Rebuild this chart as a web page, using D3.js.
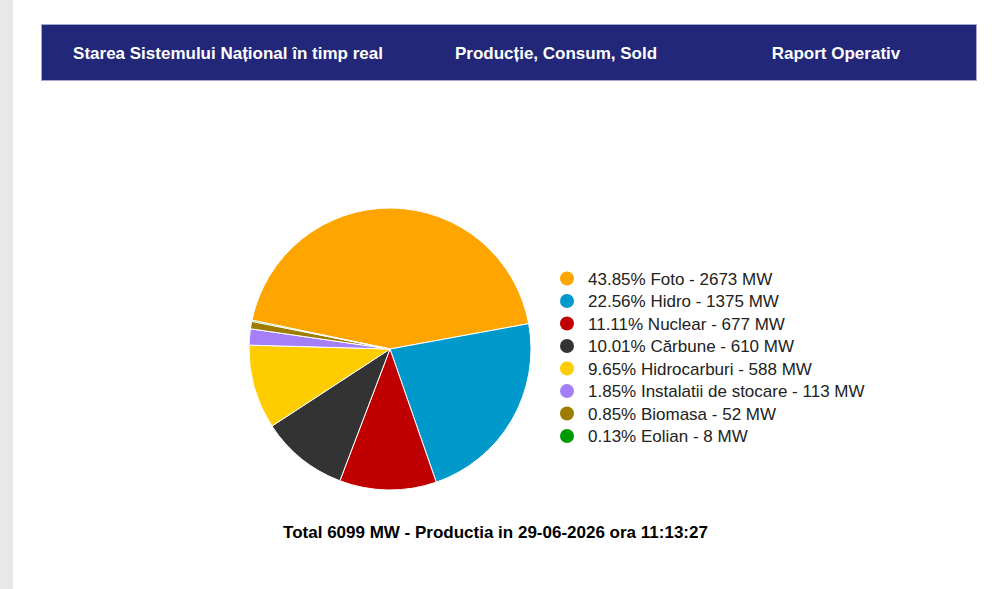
<!DOCTYPE html>
<html>
<head>
<meta charset="utf-8">
<script src="https://cdn.jsdelivr.net/npm/d3@7"></script>
<style>
  body { margin: 0; background: #fff; font-family: "Liberation Sans", Arial, sans-serif; }
</style>
</head>
<body>
<div id="chart"></div>
<script>
// Data
const sources = ["Foto", "Hidro", "Nuclear", "Cărbune", "Hidrocarburi", "Instalatii de stocare", "Biomasa", "Eolian"];
const megawatts = [2673, 1375, 677, 610, 588, 113, 52, 8];
const percents = ["43.85", "22.56", "11.11", "10.01", "9.65", "1.85", "0.85", "0.13"];
const sliceColors = ["#ffa500", "#0099cc", "#c00000", "#333333", "#ffcc00", "#a47ff8", "#9e7c00", "#009900"];
const menuItems = ["Starea Sistemului Național în timp real", "Producție, Consum, Sold", "Raport Operativ"];
const totalMW = 6099;
const timestamp = "29-06-2026 ora 11:13:27";

const data = sources.map((s, i) => ({ name: s, mw: megawatts[i], pct: percents[i], color: sliceColors[i] }));

const W = 1000, H = 589;
const svg = d3.select("#chart")
  .append("svg")
  .attr("width", W)
  .attr("height", H);

// grey strip on the left edge
svg.append("rect")
  .attr("x", 0).attr("y", 0)
  .attr("width", 13).attr("height", H)
  .attr("fill", "#e8e8e8");

// Header bar
svg.append("rect")
  .attr("x", 41.5).attr("y", 24.5)
  .attr("width", 935).attr("height", 56)
  .attr("fill", "#23277a")
  .attr("stroke", "#a3a6cf")
  .attr("stroke-width", 1);

const menuX = d3.scalePoint()
  .domain(menuItems)
  .range([228, 836]);
// middle item sits a bit left of the exact midpoint
const menuPos = { "Producție, Consum, Sold": 556 };

svg.selectAll(".menu")
  .data(menuItems)
  .enter()
  .append("text")
  .attr("class", "menu")
  .attr("x", d => menuPos[d] || menuX(d))
  .attr("y", 59)
  .attr("text-anchor", "middle")
  .attr("fill", "#fff")
  .attr("font-weight", "bold")
  .attr("font-size", "17px")
  .text(d => d);

// Pie
const cx = 390, cy = 349, radius = 141;
const pie = d3.pie()
  .sort(null)
  .value(d => d.mw)
  .startAngle(-1.365)
  .endAngle(-1.365 + 2 * Math.PI);

const arc = d3.arc()
  .innerRadius(0)
  .outerRadius(radius);

const pieG = svg.append("g")
  .attr("transform", `translate(${cx},${cy})`);

pieG.selectAll("path")
  .data(pie(data))
  .enter()
  .append("path")
  .attr("d", arc)
  .attr("fill", d => d.data.color)
  .attr("stroke", "#fff")
  .attr("stroke-width", 1);

// Legend
const legendY = d3.scaleLinear()
  .domain([0, data.length - 1])
  .range([278.5, 436]);

const legend = svg.append("g");
const items = legend.selectAll(".item")
  .data(data)
  .enter()
  .append("g")
  .attr("class", "item")
  .attr("transform", (d, i) => `translate(567,${legendY(i)})`);

items.append("circle")
  .attr("r", 7)
  .attr("fill", d => d.color);

items.append("text")
  .attr("x", 21)
  .attr("y", 6)
  .attr("font-size", "17px")
  .attr("fill", "#222")
  .text(d => `${d.pct}% ${d.name} - ${d.mw} MW`);

// Footer line
svg.append("text")
  .attr("x", 495.5)
  .attr("y", 538)
  .attr("text-anchor", "middle")
  .attr("font-weight", "bold")
  .attr("font-size", "17px")
  .attr("fill", "#000")
  .text(`Total ${totalMW} MW - Productia in ${timestamp}`);
</script>
</body>
</html>
